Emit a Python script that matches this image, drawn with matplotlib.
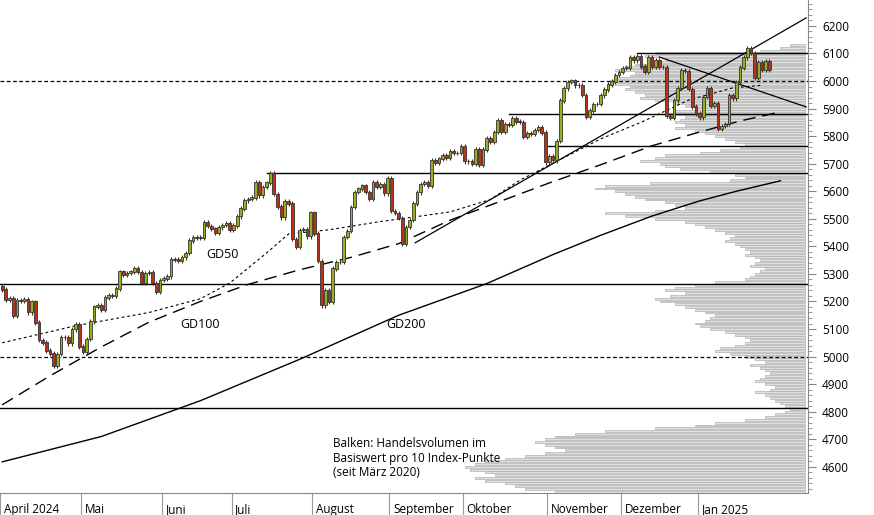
import numpy as np
import matplotlib
matplotlib.use("Agg")
import matplotlib.pyplot as plt

# daily closes, April 2024 - January 2025
closes_apr = [5243, 5205, 5211, 5147, 5204, 5202, 5209, 5160, 5199, 5123, 5061, 5051, 5022, 5011, 4967,
              5010, 5070, 5071, 5048, 5099, 5116, 5036]
closes_may = [5018, 5064, 5128, 5181, 5187, 5168, 5214, 5223, 5221, 5247, 5308, 5297, 5303, 5308, 5321,
              5307, 5267, 5304, 5306, 5266, 5235, 5278]
closes_jun = [5283, 5291, 5354, 5352, 5347, 5360, 5375, 5421, 5433, 5432, 5431, 5487, 5473, 5464, 5448,
              5469, 5477, 5483, 5460]
closes_jul = [5475, 5509, 5537, 5567, 5572, 5577, 5633, 5585, 5615, 5631, 5667, 5589, 5544, 5505, 5564,
              5555, 5427, 5399, 5459, 5463, 5436, 5522]
closes_aug = [5446, 5346, 5186, 5240, 5199, 5319, 5344, 5344, 5434, 5455, 5543, 5597, 5609, 5620, 5597,
              5571, 5634, 5617, 5626, 5592, 5648]
closes_sep = [5528, 5520, 5503, 5408, 5471, 5496, 5555, 5596, 5626, 5634, 5618, 5713, 5703, 5718, 5732,
              5722, 5745, 5738, 5738, 5762]
closes_oct = [5708, 5709, 5699, 5751, 5696, 5751, 5792, 5780, 5815, 5859, 5815, 5842, 5841, 5864, 5853,
              5851, 5797, 5809, 5808, 5823, 5833, 5813, 5705]
closes_nov = [5728, 5712, 5783, 5929, 5973, 5996, 6001, 5984, 5985, 5949, 5870, 5893, 5917, 5917, 5948,
              5969, 5987, 5998, 6021, 6032]
closes_dec = [6047, 6049, 6086, 6075, 6090, 6052, 6034, 6085, 6051, 6074, 6051, 6050, 5872, 5867, 5930,
              5974, 6040, 6037, 5970, 5907, 5882]
closes_jan = [5868, 5942, 5975, 5909, 5918, 5827, 5836, 5843, 5950, 5937, 5997, 6049, 6086, 6119, 6101,
              6012, 6068, 6039, 6071, 6041]
first_open = 5255

month_labels = ["April 2024", "Mai", "Juni", "Juli", "August", "September", "Oktober",
                "November", "Dezember", "Jan 2025"]
months = [closes_apr, closes_may, closes_jun, closes_jul, closes_aug, closes_sep,
          closes_oct, closes_nov, closes_dec, closes_jan]

# moving averages (trading-day index, value)
gd50_x = [0, 20, 40, 54, 62, 72, 78, 89, 103, 114, 122, 133, 141, 152, 163, 174, 187, 199, 207]
gd50_y = [5050, 5112, 5160, 5210, 5267, 5376, 5445, 5460, 5490, 5510, 5525, 5570, 5640, 5715, 5790,
          5850, 5931, 5975, 5985]
gd100_x = [0, 13, 27, 40, 54, 67, 81, 95, 108, 122, 136, 149, 163, 177, 190, 201, 212]
gd100_y = [4825, 4930, 5035, 5125, 5200, 5262, 5315, 5360, 5410, 5495, 5565, 5630, 5696, 5765, 5815,
           5855, 5888]
gd200_x = [0, 27, 54, 81, 108, 132, 150, 163, 177, 190, 200, 212]
gd200_y = [4618, 4710, 4840, 4990, 5150, 5265, 5370, 5440, 5510, 5565, 5600, 5638]

# horizontal support / resistance lines (level, start index)
h_levels = [6100, 5880, 5763, 5665, 5265, 4815]
h_starts = [173, 138, 148, 72, -1, -1]
dashed_levels = [6000, 5000]
trend_up = ([112.5, 219], [5413, 6229])
trend_down = ([179, 219], [6087, 5906])

# volume profile: length per 10-point bin, 4510 .. 6130
vol_prices = list(range(4510, 6140, 10))
vol_len = [250, 280, 290, 300, 320, 330, 310, 320, 335, 340, 330, 320, 300, 280, 260, 240, 250, 260, 270,
           260, 250, 230, 200, 150, 110, 90, 60, 40, 30, 20, 15, 20, 25, 30, 35, 40, 50, 35, 30, 40, 50,
           45, 40, 35, 40, 45, 55, 40, 50, 60, 75, 90, 85, 70, 60, 55, 60, 70, 80, 95, 105, 110, 100, 95,
           90, 100, 110, 120, 130, 145, 150, 135, 120, 140, 130, 110, 90, 60, 55, 50, 45, 40, 55, 50, 45,
           50, 60, 55, 60, 65, 70, 80, 75, 70, 80, 90, 100, 110, 120, 150, 180, 200, 150, 120, 130, 140,
           160, 170, 180, 190, 210, 200, 155, 75, 60, 70, 95, 125, 140, 145, 165, 150, 140, 105, 85, 65,
           60, 70, 80, 90, 100, 110, 130, 120, 130, 125, 120, 140, 130, 110, 120, 130, 150, 165, 160, 170,
           180, 175, 190, 195, 190, 175, 170, 190, 180, 170, 150, 140, 160, 150, 45, 25, 15]

closes = np.array(sum(months, []), dtype=float)
opens = np.concatenate([[first_open], closes[:-1]])
idx = np.arange(len(closes))
month_starts = np.cumsum([0] + [len(m) for m in months])[:-1]

fig = plt.figure(figsize=(8.74, 5.15), dpi=100)
plt.rcParams["font.family"] = ["Open Sans", "DejaVu Sans"]
y0, y1 = 4505, 6294
pos = [0, 22 / 515, 808 / 874, 493 / 515]

# volume profile underneath
axv = fig.add_axes(pos)
axv.set_xlim(808, 0)
axv.set_ylim(y0, y1)
axv.barh(vol_prices, vol_len, height=7, left=3, color="#e0e0e0", edgecolor="#b0b0b0", linewidth=0.5)
axv.axis("off")

ax = fig.add_axes(pos)
ax.patch.set_alpha(0)
ax.set_xlim(-0.6, 219.5)
ax.set_ylim(y0, y1)

for lvl, st in zip(h_levels, h_starts):
    ax.plot([st, 219.5], [lvl, lvl], color="black", lw=1)
for lvl in dashed_levels:
    ax.axhline(lvl, color="black", lw=0.9, ls=(0, (3, 2)))
ax.plot(*trend_up, color="black", lw=0.9)
ax.plot(*trend_down, color="black", lw=0.9)

ax.plot(gd200_x, gd200_y, color="black", lw=1)
ax.plot(gd100_x, gd100_y, color="black", lw=1, ls=(0, (9, 5)))
ax.plot(gd50_x, gd50_y, color="black", lw=0.8, ls=(0, (2.5, 2.5)))

up = closes >= opens
hi = np.maximum(opens, closes) + 8
lo = np.minimum(opens, closes) - 8
ax.vlines(idx, lo, hi, color="#333333", lw=0.8, zorder=3)
ax.bar(idx, np.abs(closes - opens) + 1, bottom=np.minimum(opens, closes), width=0.75,
       color=np.where(up, "#9aae1c", "#b8321e"), edgecolor="#333333", linewidth=0.6, zorder=4)

ax.text(60, 5369, "GD50", fontsize=9, ha="center", va="center")
ax.text(54, 5115, "GD100", fontsize=9, ha="center", va="center")
ax.text(110, 5115, "GD200", fontsize=9, ha="center", va="center")
ax.text(90, 4632, "Balken: Handelsvolumen im\nBasiswert pro 10 Index-Punkte\n(seit März 2020)",
        fontsize=8.5, linespacing=1.15, va="center")

ax.yaxis.tick_right()
ax.set_yticks(range(4600, 6201, 100))
ax.set_yticks(range(4520, 6290, 20), minor=True)
ax.tick_params(axis="y", which="major", length=6, labelsize=8.5, pad=4, color="#888888")
ax.tick_params(axis="y", which="minor", length=3, color="#888888")
ax.set_xticks(month_starts - 0.5)
ax.set_xticklabels([])
ax.tick_params(axis="x", length=22, color="#999999")
for ms, lab in zip(month_starts, month_labels):
    ax.text(ms + 0.5, y0 - 60, lab, fontsize=8.5, ha="left", va="center")
for s in ["top", "left"]:
    ax.spines[s].set_visible(False)
ax.spines["right"].set_color("#888888")
ax.spines["bottom"].set_color("#888888")

fig.savefig("out.png", dpi=100)
